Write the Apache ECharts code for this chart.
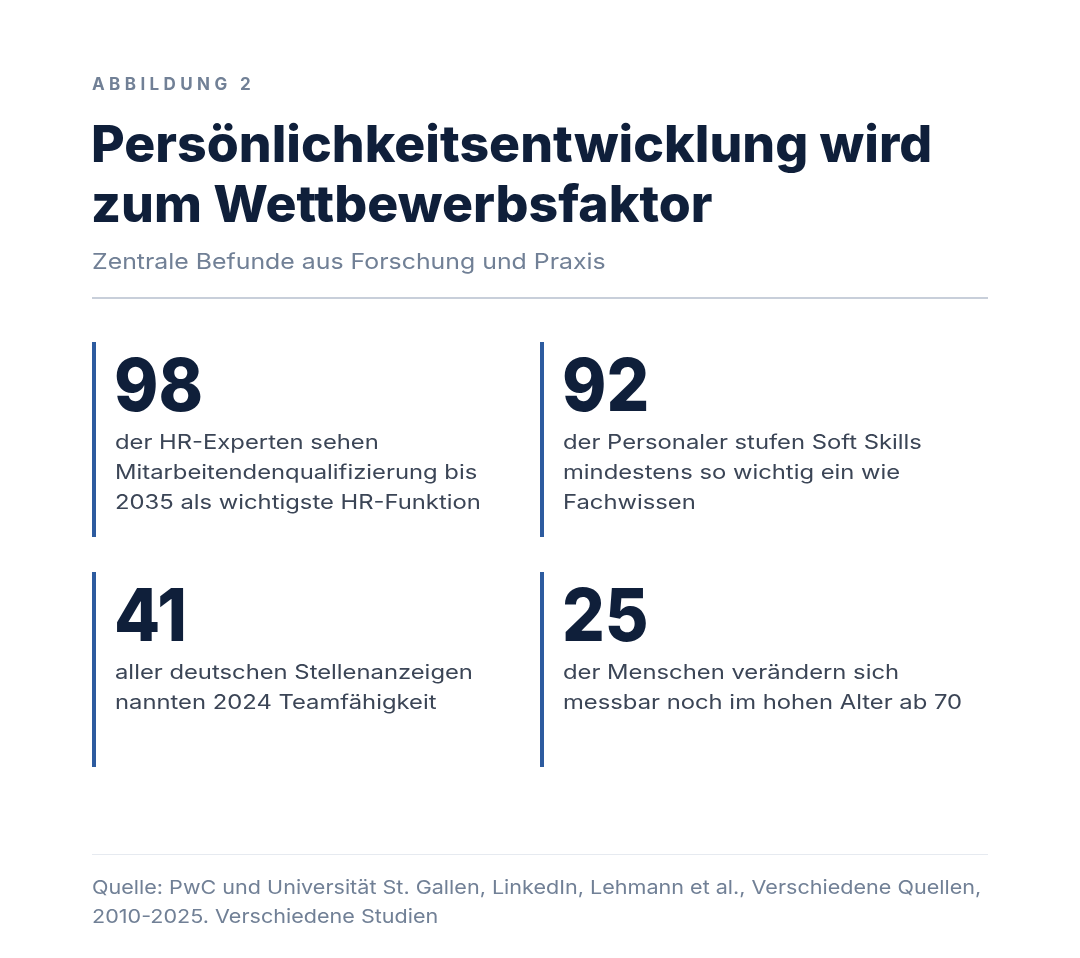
<!DOCTYPE html>
<html>
<head>
<meta charset="utf-8">
<script src="https://cdn.jsdelivr.net/npm/echarts@6/dist/echarts.min.js"></script>
<style>
html,body{margin:0;padding:0;background:#ffffff;}
#chart{width:1080px;height:958px;}
</style>
</head>
<body>
<div id="chart"></div>
<script>
// ---- content ----
const kicker = "ABBILDUNG 2";
const titleLines = ["Persönlichkeitsentwicklung wird", "zum Wettbewerbsfaktor"];
const subtitle = "Zentrale Befunde aus Forschung und Praxis";
const statValues = [98, 92, 41, 25];
const statTexts = [
  ["der HR-Experten sehen", "Mitarbeitendenqualifizierung bis", "2035 als wichtigste HR-Funktion"],
  ["der Personaler stufen Soft Skills", "mindestens so wichtig ein wie", "Fachwissen"],
  ["aller deutschen Stellenanzeigen", "nannten 2024 Teamfähigkeit"],
  ["der Menschen verändern sich", "messbar noch im hohen Alter ab 70"]
];
const sourceLines = [
  "Quelle: PwC und Universität St. Gallen, LinkedIn, Lehmann et al., Verschiedene Quellen,",
  "2010-2025. Verschiedene Studien"
];

// ---- style ----
const FONT = "Inter, 'Noto Sans', sans-serif";
const C_DARK = "#0f1f3a";
const C_TEXT = "#3b4556";
const C_GRAY = "#718096";
const C_BLUE = "#2d5b9f";

const chart = echarts.init(document.getElementById('chart'), null, {renderer: 'canvas', width: 1080, height: 958});

const els = [];
function txt(x, y, text, size, weight, fill, sx) {
  els.push({
    type: 'text', x: x, y: y, scaleX: sx || 1, silent: true,
    style: {text: text, fontFamily: FONT, fontSize: size, fontWeight: weight, fill: fill, verticalAlign: 'middle', align: 'left'}
  });
}

// kicker with letter spacing (drawn char by char)
(function(){
  const ctx = document.createElement('canvas').getContext('2d');
  const size = 17;
  ctx.font = "700 " + size + "px Inter, 'Noto Sans', sans-serif";
  let x = 92;
  for (const ch of kicker) {
    txt(x, 85, ch, size, 700, C_GRAY);
    x += ctx.measureText(ch).width + 4.4;
  }
})();

titleLines.forEach((l, i) => txt(91, 147 + i * 60, l, 51, 800, C_DARK, 1.015));
txt(92, 262, subtitle, 22, 400, C_GRAY, 1.13);

els.push({type: 'line', silent: true, shape: {x1: 92, y1: 298, x2: 988, y2: 298}, style: {stroke: '#c8cfda', lineWidth: 2}});

const colX = [92, 540];
const rowY = [342, 572];
statValues.forEach((v, i) => {
  const cx = colX[i % 2], ry = rowY[Math.floor(i / 2)];
  els.push({type: 'rect', silent: true, shape: {x: cx, y: ry, width: 4, height: 195}, style: {fill: C_BLUE}});
  txt(cx + 22, ry + 47, String(v), 73, 800, C_DARK, 0.92);
  statTexts[i].forEach((l, j) => txt(cx + 23, ry + 101 + j * 30, l, 20, 400, C_TEXT, 1.19));
});

els.push({type: 'line', silent: true, shape: {x1: 92, y1: 854.5, x2: 988, y2: 854.5}, style: {stroke: '#e6eaf0', lineWidth: 1}});
sourceLines.forEach((l, i) => txt(92, 888 + i * 29, l, 19, 400, C_GRAY, 1.135));

chart.setOption({
  backgroundColor: '#ffffff',
  animation: false,
  graphic: {elements: els}
});
</script>
</body>
</html>
